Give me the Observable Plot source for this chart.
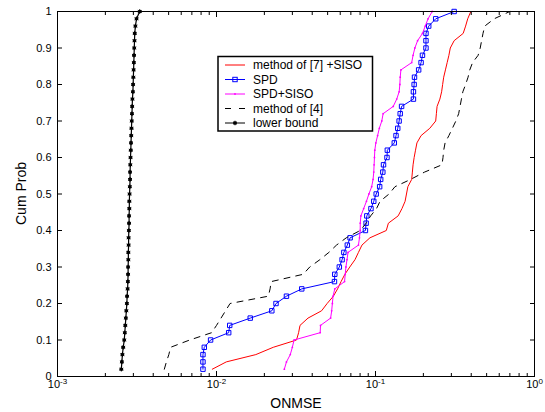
<!DOCTYPE html>
<html><head><meta charset="utf-8">
<script src="https://cdn.jsdelivr.net/npm/d3@7"></script>
<script src="https://cdn.jsdelivr.net/npm/@observablehq/plot@0.6"></script>
<style>
body{margin:0;background:#fff;}
#chart{width:545px;height:412px;}
</style></head><body><div id="chart"></div>
<script>
// ---- data ----
const cumProb = [0.02,0.04,0.06,0.08,0.10,0.12,0.14,0.16,0.18,0.20,0.22,0.24,0.26,0.28,0.30,0.32,0.34,0.36,0.38,0.40,
  0.42,0.44,0.46,0.48,0.50,0.52,0.54,0.56,0.58,0.60,0.62,0.64,0.66,0.68,0.70,0.72,0.74,0.76,0.78,0.80,
  0.82,0.84,0.86,0.88,0.90,0.92,0.94,0.96,0.98,1.00];
const method7Siso = [0.00941,0.01152,0.01767,0.02274,0.03186,0.03284,0.03351,0.03763,0.04579,0.04964,
  0.05434,0.05773,0.06072,0.06418,0.06889,0.07428,0.07812,0.08218,0.09226,0.1169,
  0.1205,0.1388,0.1467,0.1535,0.1566,0.1598,0.1689,0.1706,0.1723,0.1750,
  0.1785,0.1822,0.1935,0.2195,0.2391,0.2415,0.2439,0.2540,0.2605,0.2644,
  0.2685,0.2753,0.2823,0.2895,0.2954,0.3123,0.3560,0.3687,0.3801,0.3977];
const spd = [0.00822,0.00822,0.00822,0.00838,0.00918,0.01193,0.01211,0.01630,0.02228,0.02367,
  0.02754,0.03437,0.05519,0.05546,0.05922,0.06165,0.06323,0.06650,0.06924,0.08641,
  0.08729,0.08818,0.09366,0.09750,0.1010,0.1062,0.1078,0.1112,0.1123,0.1181,
  0.1187,0.1313,0.1346,0.1380,0.1408,0.1430,0.1459,0.1732,0.1732,0.1750,
  0.1759,0.1868,0.1935,0.1974,0.2077,0.2077,0.2077,0.2161,0.2391,0.3123];
const spdSiso = [0.02671,0.02754,0.02911,0.02999,0.03076,0.04488,0.04511,0.05221,0.05301,0.05355,
  0.05408,0.05546,0.06388,0.06451,0.06517,0.06617,0.06717,0.07812,0.07931,0.08011,
  0.08020,0.08092,0.08425,0.08772,0.09088,0.09461,0.09654,0.09752,0.0980,0.0985,
  0.0990,0.1005,0.1031,0.1057,0.1095,0.1117,0.1293,0.1360,0.1408,0.1423,
  0.1430,0.1445,0.1689,0.1723,0.1768,0.1840,0.1974,0.2055,0.2140,0.2273];
const method4 = [0.004697,0.004841,0.005014,0.005142,0.006784,0.009319,0.01000,0.01068,0.01140,0.01217,
  0.02118,0.02173,0.02206,0.03507,0.03859,0.04466,0.05092,0.05686,0.06550,0.08011,
  0.08729,0.09320,0.1015,0.1068,0.1217,0.1326,0.1663,0.2034,0.2618,0.2658,
  0.2685,0.2739,0.2895,0.3045,0.3202,0.3334,0.3402,0.3471,0.3542,0.3687,
  0.3820,0.3917,0.4078,0.4420,0.4556,0.4649,0.4744,0.4865,0.5575,0.6993];
const lowerBound = [0.00252,0.00254,0.00256,0.00259,0.00263,0.00265,0.00267,0.00269,0.00271,0.00273,
  0.00274,0.00276,0.00277,0.00278,0.00278,0.00279,0.00279,0.00280,0.00280,0.00281,
  0.00282,0.00282,0.00283,0.00283,0.00284,0.00285,0.00286,0.00286,0.00287,0.00288,
  0.00289,0.00290,0.00291,0.00292,0.00293,0.00294,0.00295,0.00296,0.00298,0.00299,
  0.00300,0.00301,0.00302,0.00303,0.00304,0.00305,0.00306,0.00309,0.00314,0.00329];

const seriesNames = ["method of [7] +SISO","SPD","SPD+SISO","method of [4]","lower bound"];
const xTickValues = [0.001,0.01,0.1,1];
const xTickLabels = ["10^-3","10^-2","10^-1","10^0"];
const xMinorTicks = [0.002,0.003,0.004,0.005,0.006,0.007,0.008,0.009,
  0.02,0.03,0.04,0.05,0.06,0.07,0.08,0.09,0.2,0.3,0.4,0.5,0.6,0.7,0.8,0.9];
const yTickValues = [0,0.1,0.2,0.3,0.4,0.5,0.6,0.7,0.8,0.9,1];
const yTickLabels = ["0","0.1","0.2","0.3","0.4","0.5","0.6","0.7","0.8","0.9","1"];
const xLabel = "ONMSE";
const yLabel = "Cum Prob";

// ---- build ----
const rows = vals => vals.map((v,i)=>({x:v, y:cumProb[i]}));
const W=545, H=412, mL=57, mR=11, mT=11, mB=36;
const font = "'Liberation Sans', Arial, Helvetica, sans-serif";
const none = () => "";

const svg = Plot.plot({
  width: W, height: H,
  marginLeft: mL, marginRight: mR, marginTop: mT, marginBottom: mB,
  x: {type: "log", domain: [1e-3, 1]},
  y: {domain: [0, 1]},
  style: {fontFamily: font, fontSize: "11px", color: "black", background: "white", overflow: "visible"},
  marks: [
    Plot.line(rows(method7Siso), {x:"x", y:"y", stroke:"#ff0000", strokeWidth:1}),
    Plot.line(rows(spd), {x:"x", y:"y", stroke:"#0000ff", strokeWidth:1}),
    Plot.dot(rows(spd), {x:"x", y:"y", stroke:"#0000ff", symbol:"square", r:2.5, strokeWidth:1}),
    Plot.line(rows(spdSiso), {x:"x", y:"y", stroke:"#ff00ff", strokeWidth:1}),
    Plot.dot(rows(spdSiso), {x:"x", y:"y", fill:"#ff00ff", r:0.9}),
    Plot.line(rows(method4), {x:"x", y:"y", stroke:"black", strokeWidth:1, strokeDasharray:"6,6"}),
    Plot.line(rows(lowerBound), {x:"x", y:"y", stroke:"black", strokeWidth:1.2}),
    Plot.dot(rows(lowerBound), {x:"x", y:"y", fill:"black", r:1.8}),
    Plot.dot(rows(lowerBound), {x:"x", y:"y", stroke:"black", symbol:"asterisk", r:2.1, strokeWidth:1}),
    Plot.axisX(xTickValues, {anchor:"bottom", tickSize:-5, tickFormat:none, label:null}),
    Plot.axisX(xTickValues, {anchor:"top", tickSize:-5, tickFormat:none, label:null}),
    Plot.axisX(xMinorTicks, {anchor:"bottom", tickSize:-3, tickFormat:none, label:null}),
    Plot.axisX(xMinorTicks, {anchor:"top", tickSize:-3, tickFormat:none, label:null}),
    Plot.axisX(xTickValues, {anchor:"bottom", tickSize:0, tickPadding:4, fontSize:11,
      tickFormat: d => xTickLabels[xTickValues.indexOf(d)], label:null}),
    Plot.axisY(yTickValues, {anchor:"left", tickSize:-5, tickFormat:none, label:null}),
    Plot.axisY(yTickValues, {anchor:"right", tickSize:-5, tickFormat:none, label:null}),
    Plot.axisY(yTickValues, {anchor:"left", tickSize:0, tickPadding:6, fontSize:11,
      tickFormat: d => yTickLabels[yTickValues.indexOf(d)], label:null}),
    Plot.frame({stroke:"black", strokeWidth:1})
  ]
});
document.getElementById("chart").appendChild(svg);

const s = d3.select(svg);
// superscript exponents on x tick labels
s.selectAll("text").each(function(){
  const t = this.textContent;
  if (!t.includes("^")) return;
  const [base, exp] = t.split("^");
  const el = d3.select(this);
  el.text(null);
  el.append("tspan").text(base);
  el.append("tspan").attr("dy","-0.5em").attr("font-size","8px").text(exp);
});

// axis titles
s.append("text").attr("x", 296).attr("y", 403).attr("dy","0.35em")
  .attr("text-anchor","middle").attr("font-size",14).attr("font-family",font).text(xLabel);
s.append("text").attr("transform","translate(21,193.5) rotate(-90)").attr("dy","0.35em")
  .attr("text-anchor","middle").attr("font-size",14).attr("font-family",font).text(yLabel);

// legend
const lg = s.append("g").attr("font-family",font).attr("font-size",12).attr("text-anchor","start");
lg.append("rect").attr("x",218).attr("y",56.5).attr("width",154.5).attr("height",74.5)
  .attr("fill","white").attr("stroke","black").attr("stroke-width",1.5);
const rowY = [65, 79.5, 94, 108.5, 123];
const styles = [
  {stroke:"#ff0000"},
  {stroke:"#0000ff", marker:"square"},
  {stroke:"#ff00ff", marker:"dot"},
  {stroke:"black", dash:"6,8"},
  {stroke:"black", marker:"star"}
];
seriesNames.forEach((name,i)=>{
  const y = rowY[i], st = styles[i];
  lg.append("line").attr("x1",225).attr("x2",245).attr("y1",y).attr("y2",y)
    .attr("stroke",st.stroke).attr("stroke-width",1).attr("stroke-dasharray",st.dash||null);
  if (st.marker==="square") lg.append("rect").attr("x",232.8).attr("y",y-2.2).attr("width",4.4).attr("height",4.4)
    .attr("fill","none").attr("stroke",st.stroke);
  if (st.marker==="dot") lg.append("circle").attr("cx",235).attr("cy",y).attr("r",0.9).attr("fill",st.stroke);
  if (st.marker==="star") {
    lg.append("circle").attr("cx",235).attr("cy",y).attr("r",1.8).attr("fill","black");
    lg.append("path").attr("transform",`translate(235,${y})`)
      .attr("d", d3.symbol(d3.symbolAsterisk, 2.1*2.1*Math.PI)()).attr("stroke","black").attr("stroke-width",1);
  }
  lg.append("text").attr("x",253).attr("y",y).attr("dy","0.35em").attr("text-anchor","start").text(name);
});
</script></body></html>
